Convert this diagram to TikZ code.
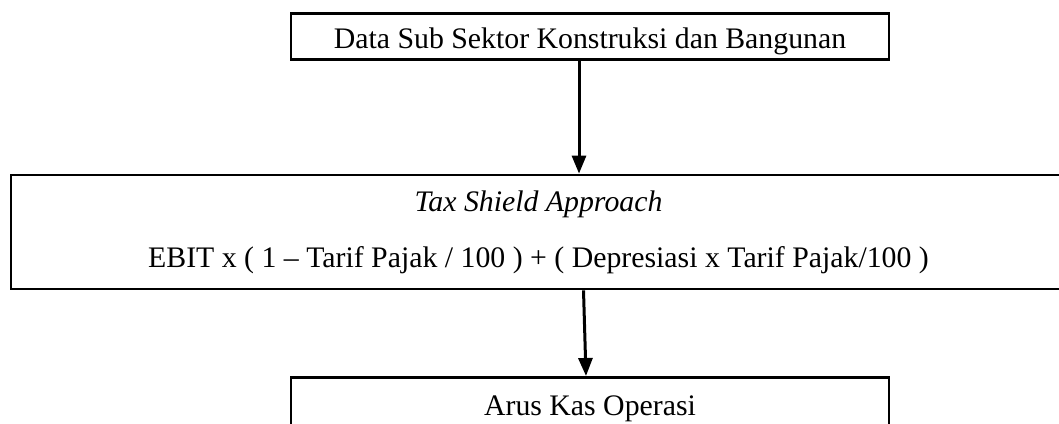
\documentclass[tikz,border=0pt]{standalone}
\usepackage{fontspec}
\setmainfont{Liberation Serif}
\usetikzlibrary{arrows.meta,positioning}
\tikzset{
  box/.style={draw=black,line width=2.8pt,rectangle,inner sep=0pt,align=center,
    font=\fontsize{29.8}{56}\selectfont},
  flow/.style={-{Triangle[length=18pt,width=14pt]},line width=3pt,draw=black},
}
\begin{document}
\begin{tikzpicture}[x=1pt,y=-1pt]
  \useasboundingbox (0,0) rectangle (1059,423);
  \clip (0,0) rectangle (1059,423);
  \node[box,anchor=north,minimum width=598pt,text height=35pt,text depth=11pt]
    (data) at (590,12) {Data Sub Sektor Konstruksi dan Bangunan};
  \node[box,minimum width=1055pt,minimum height=114pt] (tsa) at (538.5,232)
    {\textit{Tax Shield Approach}\\EBIT x ( 1 – Tarif Pajak / 100 ) + ( Depresiasi x Tarif Pajak/100 )};
  \node[box,anchor=north,minimum width=598pt,text height=38pt,text depth=30pt]
    (ako) at (590,376) {Arus Kas Operasi};
  \draw[flow] ([xshift=-11pt]data.south) -- ([xshift=-11pt]data.south |- tsa.north);
  \draw[flow] ([xshift=45pt]tsa.south) -- ([xshift=-4pt]ako.north);
\end{tikzpicture}
\end{document}
